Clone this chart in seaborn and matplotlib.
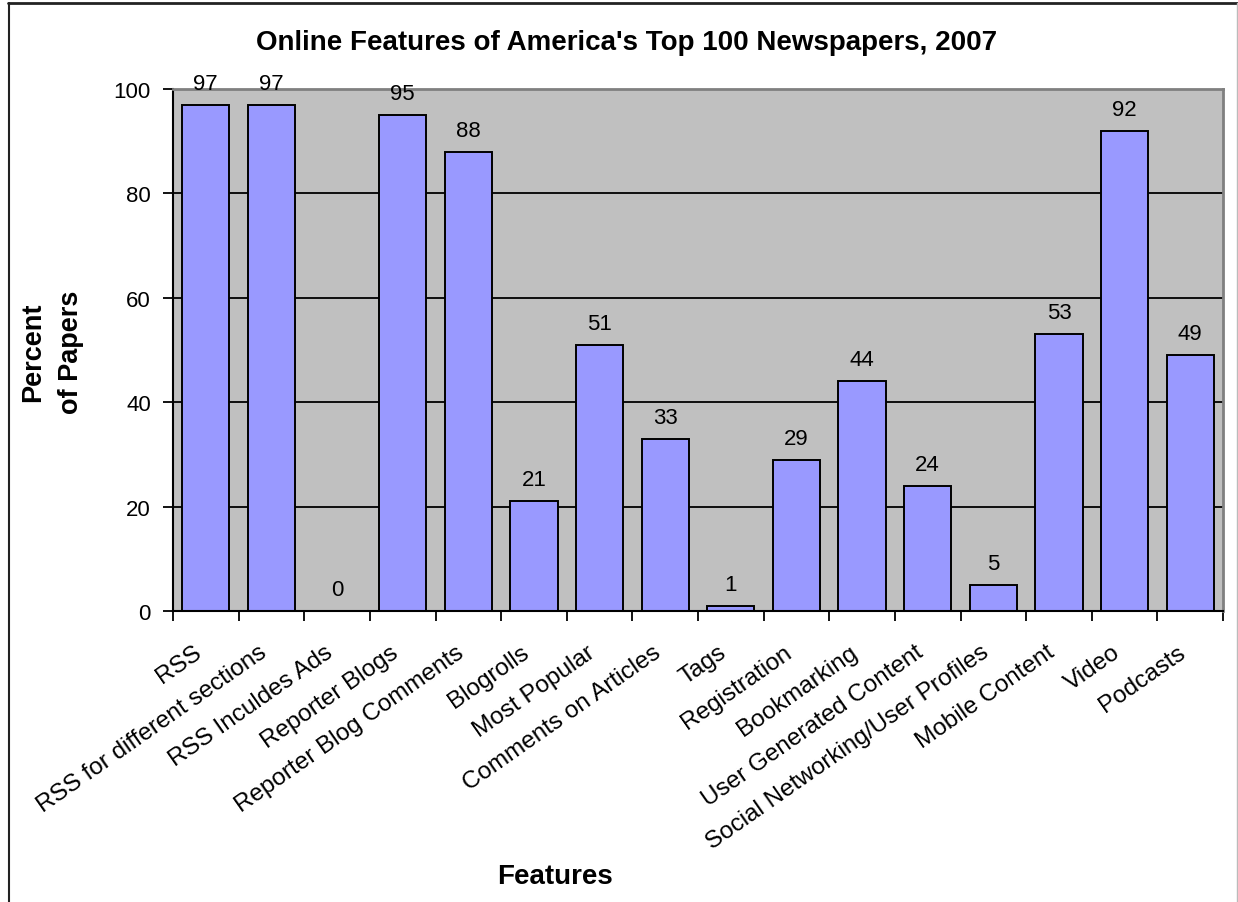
import matplotlib
matplotlib.use("Agg")
import matplotlib.pyplot as plt
from matplotlib.lines import Line2D
from matplotlib.transforms import ScaledTranslation
import seaborn as sns
import pandas as pd

features = [
    "RSS", "RSS for different sections", "RSS Inculdes Ads", "Reporter Blogs",
    "Reporter Blog Comments", "Blogrolls", "Most Popular", "Comments on Articles",
    "Tags", "Registration", "Bookmarking", "User Generated Content",
    "Social Networking/User Profiles", "Mobile Content", "Video", "Podcasts",
]
percent = [97, 97, 0, 95, 88, 21, 51, 33, 1, 29, 44, 24, 5, 53, 92, 49]
y_ticks = [0, 20, 40, 60, 80, 100]

title = "Online Features of America's Top 100 Newspapers, 2007"
x_title = "Features"
y_title = "Percent\nof Papers"

df = pd.DataFrame({"feature": features, "percent": percent})

sns.set_theme(style="white")
plt.rcParams["font.family"] = ["Liberation Sans", "DejaVu Sans"]
plt.rcParams["text.color"] = "black"
plt.rcParams["axes.labelcolor"] = "black"

W, H, DPI = 1238, 903, 100
fig = plt.figure(figsize=(W / DPI, H / DPI), dpi=DPI, facecolor="white")
ax = fig.add_axes([173 / W, 1 - 612 / H, (1223 - 173) / W, (612 - 90) / H])
ax.set_facecolor("#C0C0C0")

sns.barplot(data=df, x="feature", y="percent", color="#9999FF", saturation=1,
            edgecolor="black", linewidth=1.4, width=0.72, ax=ax)

ax.set_xlim(-0.5, len(features) - 0.5)
ax.set_ylim(0, 100)
ax.set_yticks(y_ticks)
ax.set_yticklabels([str(v) for v in y_ticks], fontsize=16, color="black")

# horizontal gridlines behind the bars
ax.set_axisbelow(True)
ax.yaxis.grid(True, color="black", linewidth=1.3)
ax.xaxis.grid(False)

# category boundaries carry the tick marks
ax.set_xticks([i - 0.5 for i in range(len(features) + 1)], minor=True)
ax.tick_params(axis="x", which="minor", length=7, width=1.3, color="black", direction="out", bottom=True)
ax.tick_params(axis="x", which="major", length=0, pad=28)
ax.tick_params(axis="y", which="major", length=7, width=1.3, color="black", direction="out", left=True, pad=9)

ax.set_xticks(range(len(features)))
ax.set_xticklabels(features, rotation=35, ha="right", va="center",
                   rotation_mode="anchor", fontsize=17.5, color="black")
shift = ScaledTranslation(-7 / DPI, 0, fig.dpi_scale_trans)
for lab in ax.get_xticklabels():
    lab.set_transform(lab.get_transform() + shift)

for side in ("left", "bottom"):
    ax.spines[side].set_color("black")
    ax.spines[side].set_linewidth(1.5)
for side in ("top", "right"):
    ax.spines[side].set_color("#808080")
    ax.spines[side].set_linewidth(2)
    ax.spines[side].set_visible(True)

# value labels above every bar
for cont in ax.containers:
    ax.bar_label(cont, labels=[str(v) for v in percent], padding=8, fontsize=16, color="black")

ax.set_xlabel("")
ax.set_ylabel("")
fig.text(627 / W, 1 - 43 / H, title, ha="center", va="center", fontsize=20, fontweight="bold")
fig.text(555 / W, 1 - 877 / H, x_title, ha="center", va="center", fontsize=20, fontweight="bold")
fig.text(52 / W, 1 - 352 / H, y_title, ha="center", va="center", rotation=90,
         fontsize=19.5, fontweight="bold", multialignment="center", linespacing=1.55)

# chart frame
fig.add_artist(Line2D([8 / W, 1], [1 - 3.5 / H, 1 - 3.5 / H], transform=fig.transFigure,
                      color="#222222", linewidth=2))
fig.add_artist(Line2D([8.5 / W, 8.5 / W], [0, 1 - 3.5 / H], transform=fig.transFigure,
                      color="#222222", linewidth=1.5))
fig.add_artist(Line2D([1236.5 / W, 1236.5 / W], [0, 1 - 3.5 / H], transform=fig.transFigure,
                      color="#BBBBBB", linewidth=1))

fig.savefig("out.png", dpi=DPI, facecolor="white")
